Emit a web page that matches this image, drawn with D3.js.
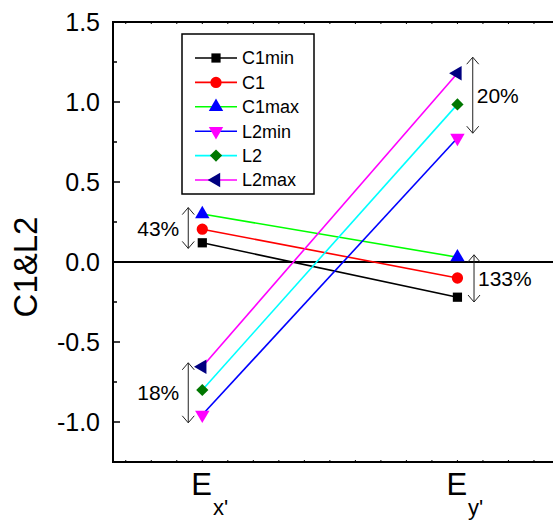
<!DOCTYPE html>
<html>
<head>
<meta charset="utf-8">
<script src="https://cdn.jsdelivr.net/npm/d3@7/dist/d3.min.js"></script>
<style>
  html, body { margin: 0; padding: 0; background: #fff; }
  svg { display: block; font-family: Arial, "Liberation Sans", sans-serif; }
</style>
</head>
<body>
<svg id="chart" width="553" height="523"></svg>
<script>
// Categories on the x axis (numeric positions 1 and 2)
const categories = ["E", "E"];
const categorySubs = ["x'", "y'"];
const categoryPos = [1, 2];

// Series values at Ex' and Ey'
const seriesNames = ["C1min", "C1", "C1max", "L2min", "L2", "L2max"];
const C1min = [0.12, -0.22];
const C1    = [0.205, -0.10];
const C1max = [0.30, 0.03];
const L2min = [-0.955, 0.775];
const L2    = [-0.80, 0.985];
const L2max = [-0.655, 1.18];
const seriesValues = [C1min, C1, C1max, L2min, L2, L2max];

// Y tick labels
const yTicks = [-1.0, -0.5, 0.0, 0.5, 1.0, 1.5];

// Spread annotations: label, x position, span (top, bottom)
const annLabels = ["43%", "18%", "20%", "133%"];
const annX      = [0.945, 0.945, 2.06, 2.065];
const annTop    = [0.34, -0.63, 1.28, 0.045];
const annBottom = [0.085, -1.005, 0.805, -0.25];

const lineColors   = ["#000000", "#ff0000", "#00ff00", "#0000ff", "#00ffff", "#ff00ff"];
const markerColors = ["#000000", "#ff0000", "#0000ff", "#ff00ff", "#007700", "#000080"];
const markerTypes  = ["square", "circle", "triUp", "triDown", "diamond", "triLeft"];

const svg = d3.select("#chart");
const mLeft = 113, mTop = 22, mBottom = 462, mRight = 585;

const x = d3.scaleLinear().domain([0.65, 2.5]).range([mLeft, mRight]);
const y = d3.scaleLinear().domain([-1.25, 1.5]).range([mBottom, mTop]);

// Minor inward ticks
const g = svg.append("g");
const minorY = d3.range(-1.25, 1.5001, 0.25);
g.selectAll(".ymin").data(minorY).join("line")
  .attr("x1", mLeft).attr("x2", d => mLeft + (Math.abs(Math.round(d * 2) - d * 2) < 1e-6 ? 7 : 4))
  .attr("y1", d => y(d)).attr("y2", d => y(d))
  .attr("stroke", "#000").attr("stroke-width", 1.5);

const minorX = d3.range(0.7, 2.45, 0.1);
g.selectAll(".xminb").data(minorX).join("line")
  .attr("x1", d => x(d)).attr("x2", d => x(d))
  .attr("y1", mBottom).attr("y2", mBottom - 2)
  .attr("stroke", "#000").attr("stroke-width", 1);
g.selectAll(".xmint").data(minorX).join("line")
  .attr("x1", d => x(d)).attr("x2", d => x(d))
  .attr("y1", mTop).attr("y2", mTop + 2)
  .attr("stroke", "#000").attr("stroke-width", 1);

// Frame
svg.append("path")
  .attr("d", `M${mRight},${mTop}H${mLeft}V${mBottom}H${mRight}`)
  .attr("fill", "none").attr("stroke", "#000").attr("stroke-width", 2);

// Zero line
svg.append("line")
  .attr("x1", mLeft).attr("x2", mRight).attr("y1", y(0)).attr("y2", y(0))
  .attr("stroke", "#000").attr("stroke-width", 2);

// Y tick labels (plain hyphen for negatives)
svg.selectAll(".ytl").data(yTicks).join("text")
  .attr("x", 100).attr("y", d => y(d)).attr("dy", "0.36em")
  .attr("text-anchor", "end").attr("font-size", 25)
  .text(d => d.toFixed(1).replace("\u2212", "-"));

// Y title
svg.append("text")
  .attr("transform", `translate(37,${267}) rotate(-90)`)
  .attr("text-anchor", "middle").attr("font-size", 33)
  .text("C1&L2");

// X category labels
categories.forEach((c, i) => {
  const t = svg.append("text")
    .attr("x", x(categoryPos[i]) - 11).attr("y", 495)
    .attr("font-size", 31);
  t.append("tspan").text(c);
  t.append("tspan").attr("font-size", 22).attr("dy", 20).attr("dx", 1).text(categorySubs[i]);
});

// Marker shapes
function markerPath(type) {
  const s = { square: d3.symbolSquare, circle: d3.symbolCircle, triUp: d3.symbolTriangle,
              triDown: d3.symbolTriangle, diamond: d3.symbolSquare, triLeft: d3.symbolTriangle }[type];
  const size = { square: 85, circle: 100, triUp: 90, triDown: 90, diamond: 75, triLeft: 90 }[type];
  return d3.symbol().type(s).size(size)();
}
function markerRot(type) {
  return type === "triDown" ? 180 : type === "triLeft" ? -90 : type === "diamond" ? 45 : 0;
}

// Series lines and markers
const line = d3.line().x((d, i) => x(categoryPos[i])).y(d => y(d));
seriesValues.forEach((vals, k) => {
  svg.append("path").attr("d", line(vals))
    .attr("fill", "none").attr("stroke", lineColors[k]).attr("stroke-width", 1.6);
});
seriesValues.forEach((vals, k) => {
  svg.selectAll(null).data(vals).join("path")
    .attr("d", markerPath(markerTypes[k]))
    .attr("transform", (d, i) => `translate(${x(categoryPos[i])},${y(d)}) rotate(${markerRot(markerTypes[k])})`)
    .attr("fill", markerColors[k]);
});

// Double-headed spread arrows with labels
annLabels.forEach((lab, i) => {
  const ax = x(annX[i]), y0 = y(annTop[i]), y1 = y(annBottom[i]);
  const h = 7, w = 6;
  svg.append("path")
    .attr("d", `M${ax},${y0}V${y1}M${ax - w},${y0 + h}L${ax},${y0}L${ax + w},${y0 + h}M${ax - w},${y1 - h}L${ax},${y1}L${ax + w},${y1 - h}`)
    .attr("fill", "none").attr("stroke", "#222").attr("stroke-width", 1);
  const onLeft = annX[i] < 1.5;
  svg.append("text")
    .attr("x", onLeft ? ax - 9 : ax + 4)
    .attr("y", (y0 + y1) / 2).attr("dy", "0.36em")
    .attr("text-anchor", onLeft ? "end" : "start")
    .attr("font-size", 21)
    .text(lab);
});

// Legend
const lg = svg.append("g");
lg.append("rect").attr("x", 182).attr("y", 34).attr("width", 132).attr("height", 160)
  .attr("fill", "#fff").attr("stroke", "#000").attr("stroke-width", 1.5);
seriesNames.forEach((name, k) => {
  const ly = 58 + k * 24.4;
  lg.append("line").attr("x1", 195).attr("x2", 237).attr("y1", ly).attr("y2", ly)
    .attr("stroke", lineColors[k]).attr("stroke-width", 1.6);
  lg.append("path").attr("d", markerPath(markerTypes[k]))
    .attr("transform", `translate(216,${ly}) rotate(${markerRot(markerTypes[k])})`)
    .attr("fill", markerColors[k]);
  lg.append("text").attr("x", 242).attr("y", ly).attr("dy", "0.36em")
    .attr("font-size", 18).text(name);
});
</script>
</body>
</html>
